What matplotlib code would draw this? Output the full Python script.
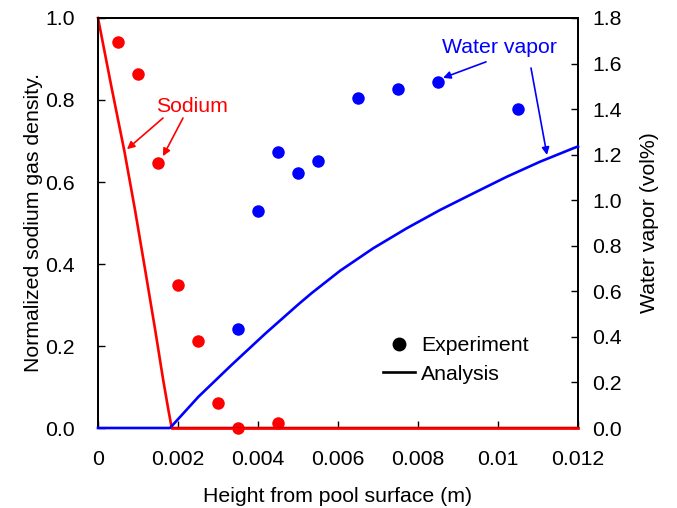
import matplotlib
matplotlib.use("Agg")
import matplotlib.pyplot as plt
from matplotlib.lines import Line2D

plt.rcParams['font.family'] = ['Liberation Sans', 'DejaVu Sans']

# Experimental data
na_exp_x = [0.0005, 0.001, 0.0015, 0.002, 0.0025, 0.003, 0.0035, 0.0045]
na_exp_y = [0.941, 0.863, 0.646, 0.349, 0.212, 0.061, 0.0, 0.012]
wv_exp_x = [0.0035, 0.004, 0.0045, 0.005, 0.0055, 0.0065, 0.0075, 0.0085, 0.0105]
wv_exp_y = [0.435, 0.953, 1.21, 1.12, 1.17, 1.45, 1.49, 1.52, 1.40]

# Analysis curves
na_ana_x = [0, 0.00034, 0.00066, 0.000925, 0.00118, 0.00143, 0.00163, 0.00176,
            0.00183, 0.00186, 0.012]
na_ana_y = [1.0, 0.83, 0.675, 0.532, 0.385, 0.239, 0.117, 0.044, 0.007, 0.0, 0.0]
wv_ana_x = [0, 0.0018, 0.00251, 0.00334, 0.00418, 0.00501, 0.00534, 0.00605,
            0.00688, 0.00772, 0.00855, 0.00938, 0.01022, 0.01105, 0.01188, 0.012]
wv_ana_y = [0, 0, 0.137, 0.277, 0.414, 0.543, 0.592, 0.690, 0.789, 0.877, 0.957,
            1.030, 1.103, 1.169, 1.228, 1.236]

x_ticks = [0, 0.002, 0.004, 0.006, 0.008, 0.01, 0.012]
x_ticklabels = ['0', '0.002', '0.004', '0.006', '0.008', '0.01', '0.012']
yl_ticks = [0.0, 0.2, 0.4, 0.6, 0.8, 1.0]
yr_ticks = [0.0, 0.2, 0.4, 0.6, 0.8, 1.0, 1.2, 1.4, 1.6, 1.8]

FS = 15.3
RED = '#ff0000'
BLUE = '#0000ff'

fig = plt.figure(figsize=(6.77, 5.08), dpi=100)
ax = fig.add_axes([98/677, 80/508, 480/677, 410/508])
ax2 = ax.twinx()

ax.plot(na_ana_x, na_ana_y, color=RED, lw=1.9, clip_on=False, zorder=3)
ax.plot(na_exp_x, na_exp_y, 'o', color=RED, ms=9, mec='none', clip_on=False, zorder=4)
ax2.plot(wv_ana_x, wv_ana_y, color=BLUE, lw=1.9, clip_on=False, zorder=3)
ax2.plot(wv_exp_x, wv_exp_y, 'o', color=BLUE, ms=9, mec='none', clip_on=False, zorder=4)
# redraw the red baseline over the blue one
ax2.plot(na_ana_x[-2:], [0, 0], color=RED, lw=1.9, clip_on=False, zorder=5)

ax.set_xlim(0, 0.012)
ax.set_ylim(0, 1.0)
ax2.set_ylim(0, 1.8)
ax.set_xticks(x_ticks)
ax.set_xticklabels(x_ticklabels)
ax.set_yticks(yl_ticks)
ax.set_yticklabels([f'{v:.1f}' for v in yl_ticks])
ax2.set_yticks(yr_ticks)
ax2.set_yticklabels([f'{v:.1f}' for v in yr_ticks])

for a in (ax, ax2):
    a.tick_params(direction='in', length=5, width=1, labelsize=FS)
    for s in a.spines.values():
        s.set_linewidth(1.3)
ax.tick_params(axis='x', pad=15.5)
ax.tick_params(axis='y', pad=16.5)
ax2.tick_params(axis='y', pad=10.5)

ax.set_xlabel('Height from pool surface (m)', fontsize=FS, labelpad=13)
ax.set_ylabel('Normalized sodium gas density.', fontsize=FS, labelpad=2)
ax2.set_ylabel('Water vapor (vol%)', fontsize=FS, labelpad=12.5)

ap_r = dict(arrowstyle='-|>', color=RED, lw=1.2, mutation_scale=11, shrinkA=0, shrinkB=0)
ap_b = dict(arrowstyle='-|>', color=BLUE, lw=1.2, mutation_scale=11, shrinkA=0, shrinkB=0)
ax.text(0.00235, 0.785, 'Sodium', color=RED, fontsize=FS, ha='center', va='center')
ax.annotate('', xy=(0.000725, 0.680), xytext=(0.001625, 0.756), arrowprops=ap_r)
ax.annotate('', xy=(0.001625, 0.663), xytext=(0.002125, 0.756), arrowprops=ap_r)
ax.text(0.010025, 0.927, 'Water vapor', color=BLUE, fontsize=FS, ha='center', va='center')
ax.annotate('', xy=(0.008625, 0.854), xytext=(0.0097, 0.893), arrowprops=ap_b)
ax.annotate('', xy=(0.011225, 0.666), xytext=(0.010825, 0.878), arrowprops=ap_b)

handles = [Line2D([], [], marker='o', ls='none', color='black', ms=9),
           Line2D([], [], color='black', lw=1.9)]
fig.legend(handles, ['Experiment', 'Analysis'], loc='center left',
           bbox_to_anchor=(383/677, 1 - 360/508), frameon=False, fontsize=FS,
           handlelength=1.5, handletextpad=0.3, labelspacing=0.45,
           borderpad=0, borderaxespad=0)

fig.savefig('out.png', dpi=100)
